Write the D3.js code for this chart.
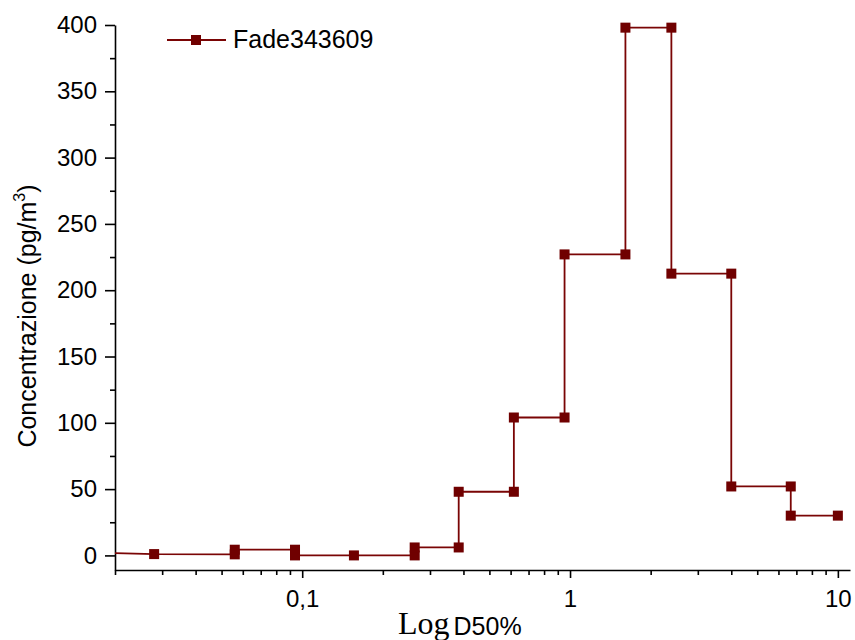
<!DOCTYPE html>
<html>
<head>
<meta charset="utf-8">
<script src="https://cdn.jsdelivr.net/npm/d3@7"></script>
<style>
  body { margin: 0; background: #fff; }
  svg { font-family: "Liberation Sans", Arial, sans-serif; }
</style>
</head>
<body>
<svg id="chart" width="855" height="640"></svg>
<script>
// step profile, vertices in drawing order
const diam = [0.02, 0.028, 0.056, 0.056, 0.094, 0.094, 0.156, 0.263, 0.263, 0.384, 0.384,
  0.617, 0.617, 0.954, 0.954, 1.61, 1.61, 2.39, 2.39, 4.0, 4.0, 6.67, 6.67, 10];
const conc = [1.8, 1.0, 0.8, 4.3, 4.3, 0, 0, 0, 6, 6, 48,
  48, 104, 104, 227, 227, 398, 398, 212.5, 212.5, 52, 52, 30, 30];
const seriesName = "Fade343609";
const yTicks = [0, 50, 100, 150, 200, 250, 300, 350, 400];
const yMinor = [25, 75, 125, 175, 225, 275, 325, 375];
const xMajor = [0.1, 1, 10];
const xLabels = ["0,1", "1", "10"];

const svg = d3.select("#chart");
const col = "#700000";

const x = d3.scaleLog().domain([0.02, 11.1]).range([115, 850]);
const y = d3.scaleLinear().domain([-11, 400]).range([570, 25]);

const pts = diam.map((d, i) => ({ d: d, c: conc[i] }));
// markers only where the picture has them (skip first edge point)
const marks = pts.slice(1);

// minor x ticks 2..9 per decade
const xMinor = [];
[0.01, 0.1, 1].forEach((dec) => {
  for (let k = 2; k <= 9; k++) {
    const v = dec * k;
    if (v >= 0.02 && v <= 11.1) xMinor.push(v);
  }
});

function styleAxis(g) {
  g.selectAll("path,line").attr("stroke", "#000").attr("stroke-width", 1.6);
  g.selectAll("text").attr("fill", "#000").style("font-size", "24px");
}

// x axis
svg.append("g")
  .attr("transform", "translate(0,570)")
  .call(d3.axisBottom(x).tickValues(xMinor).tickSize(5).tickSizeOuter(0).tickFormat(""))
  .call(styleAxis);
svg.append("g")
  .attr("transform", "translate(0,570)")
  .call(d3.axisBottom(x).tickValues(xMajor).tickSize(8).tickSizeOuter(0).tickPadding(12)
    .tickFormat((d, i) => xLabels[i]))
  .call(styleAxis)
  .call((g) => g.select(".domain").remove());

// y axis
svg.append("g")
  .attr("transform", "translate(115,0)")
  .call(d3.axisLeft(y).tickValues(yMinor).tickSize(5).tickSizeOuter(0).tickFormat(""))
  .call(styleAxis);
svg.append("g")
  .attr("transform", "translate(115,0)")
  .call(d3.axisLeft(y).tickValues(yTicks).tickSize(10).tickSizeOuter(0).tickPadding(8))
  .call(styleAxis)
  .call((g) => g.select(".domain").remove());

// line
const line = d3.line().x((p) => x(p.d)).y((p) => y(p.c));
svg.append("path")
  .datum(pts)
  .attr("d", line)
  .attr("fill", "none")
  .attr("stroke", "#7a0505")
  .attr("stroke-width", 1.8);

svg.selectAll(".mk")
  .data(marks)
  .enter()
  .append("rect")
  .attr("class", "mk")
  .attr("x", (p) => x(p.d) - 5)
  .attr("y", (p) => y(p.c) - 5)
  .attr("width", 10)
  .attr("height", 10)
  .attr("fill", col);

// legend
const lg = svg.append("g");
lg.append("line").attr("x1", 167).attr("x2", 226).attr("y1", 40).attr("y2", 40)
  .attr("stroke", "#7a0505").attr("stroke-width", 1.8);
lg.append("rect").attr("x", 191).attr("y", 35).attr("width", 10).attr("height", 10).attr("fill", col);
lg.append("text").attr("x", 233).attr("y", 48).style("font-size", "25px").text(seriesName);

// y title
const yt = svg.append("text")
  .attr("transform", "translate(36,316) rotate(-90)")
  .attr("text-anchor", "middle")
  .style("font-size", "25px");
yt.append("tspan").text("Concentrazione (pg/m");
yt.append("tspan").attr("dy", -11).style("font-size", "16px").text("3");
yt.append("tspan").attr("dy", 11).text(")");

// x title
const xt = svg.append("text").attr("x", 398).attr("y", 634);
xt.append("tspan").style("font-family", "'Liberation Serif', 'Times New Roman', serif")
  .style("font-size", "32px").text("Log");
xt.append("tspan").attr("dx", 4).attr("dy", 1).style("font-size", "25px").text("D50%");
</script>
</body>
</html>
